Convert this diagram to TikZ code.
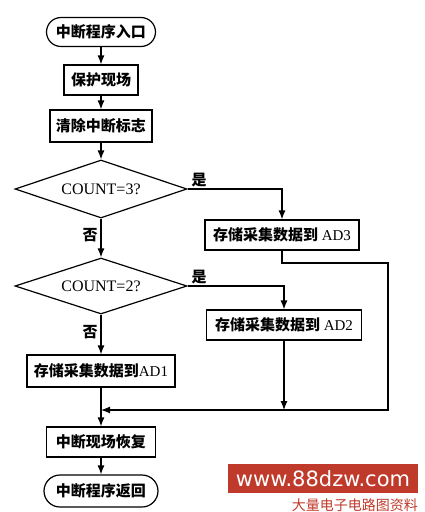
\documentclass[tikz,border=0pt]{standalone}
\usepackage{fontspec}
\setmainfont{Liberation Serif}
\newfontfamily\cjk{Noto Sans CJK SC}
\newfontfamily\wmfont{DejaVu Sans}
\usetikzlibrary{shapes.geometric,arrows.meta}
\definecolor{wmred}{RGB}{192,58,44}
\begin{document}
\begin{tikzpicture}[x=1pt,y=-1pt,
  every node/.style={font=\fontsize{15}{18}\selectfont},
  box/.style={draw,line width=1.2pt,inner sep=0pt,minimum height=30pt},
  term/.style={box,rounded corners=14.5pt},
  cond/.style={draw,line width=1.2pt,diamond,aspect=3,inner sep=0pt,minimum width=172pt,minimum height=57pt,font=\fontsize{16}{18}\selectfont},
  flow/.style={line width=1.2pt,-{Latex[length=9pt,width=7pt]}},
  line/.style={line width=1.2pt},
  lbl/.style={inner sep=0pt}]
\useasboundingbox (0,0) rectangle (425,512);
\node[term,minimum width=109pt,minimum height=29pt] (start) at (101,32) {\cjk\bfseries 中断程序入口};
\node[box,minimum width=74pt] (protect) at (101,80) {\cjk\bfseries 保护现场};
\node[box,minimum width=102pt,minimum height=32pt] (clear) at (101,126) {\cjk\bfseries 清除中断标志};
\node[cond,minimum height=58pt] (d1) at (101,189) {COUNT=3?};
\node[box,minimum width=154pt] (ad3) at (282,235) {{\cjk\bfseries 存储采集数据到} AD3};
\node[cond,minimum height=56pt] (d2) at (101,286) {COUNT=2?};
\node[box,minimum width=155pt] (ad2) at (284,325) {{\cjk\bfseries 存储采集数据到} AD2};
\node[box,minimum width=148pt,minimum height=32pt] (ad1) at (101,371) {{\cjk\bfseries 存储采集数据到}AD1};
\node[box,minimum width=109pt] (restore) at (101,442) {\cjk\bfseries 中断现场恢复};
\node[term,minimum width=114pt,minimum height=32pt,rounded corners=16pt] (end) at (101,491) {\cjk\bfseries 中断程序返回};
\node[lbl] (y1) at (199,180) {\cjk\bfseries 是};
\node[lbl] (n1) at (90,235) {\cjk\bfseries 否};
\node[lbl] (y2) at (199,277) {\cjk\bfseries 是};
\node[lbl] (n2) at (90,332) {\cjk\bfseries 否};
\coordinate (m) at (101,410);
\coordinate (m2) at (284,410);
\coordinate (r1) at (282,263);
\coordinate (r2) at (388,263);
\coordinate (r3) at (388,410);
\draw[flow] (start) -- (protect);
\draw[flow] (protect) -- (clear);
\draw[flow] (clear) -- (d1);
\draw[flow] (d1.east) -| (ad3.north);
\draw[flow] (d1) -- (d2);
\draw[flow] (d2.east) -| (ad2.north);
\draw[flow] (d2) -- (ad1);
\draw[line] (ad1.south) -- (m);
\draw[flow] (m) -- (restore);
\draw[flow] (ad2.south) -- (m2);
\draw[flow] (ad3.south) |- (r2) -- (r3) -- (m);
\draw[flow] (restore) -- (end);
% watermark
\node[fill=wmred,inner sep=0pt,minimum width=190pt,minimum height=29pt,text=white,font=\wmfont\fontsize{21}{24}\selectfont] (wm) at (323,478.5) {www.88dzw.com};
\node[text=wmred,inner sep=0pt,font=\cjk\fontsize{14}{16}\selectfont,anchor=east] (wm2) at (418,505) {大量电子电路图资料};
\end{tikzpicture}
\end{document}
